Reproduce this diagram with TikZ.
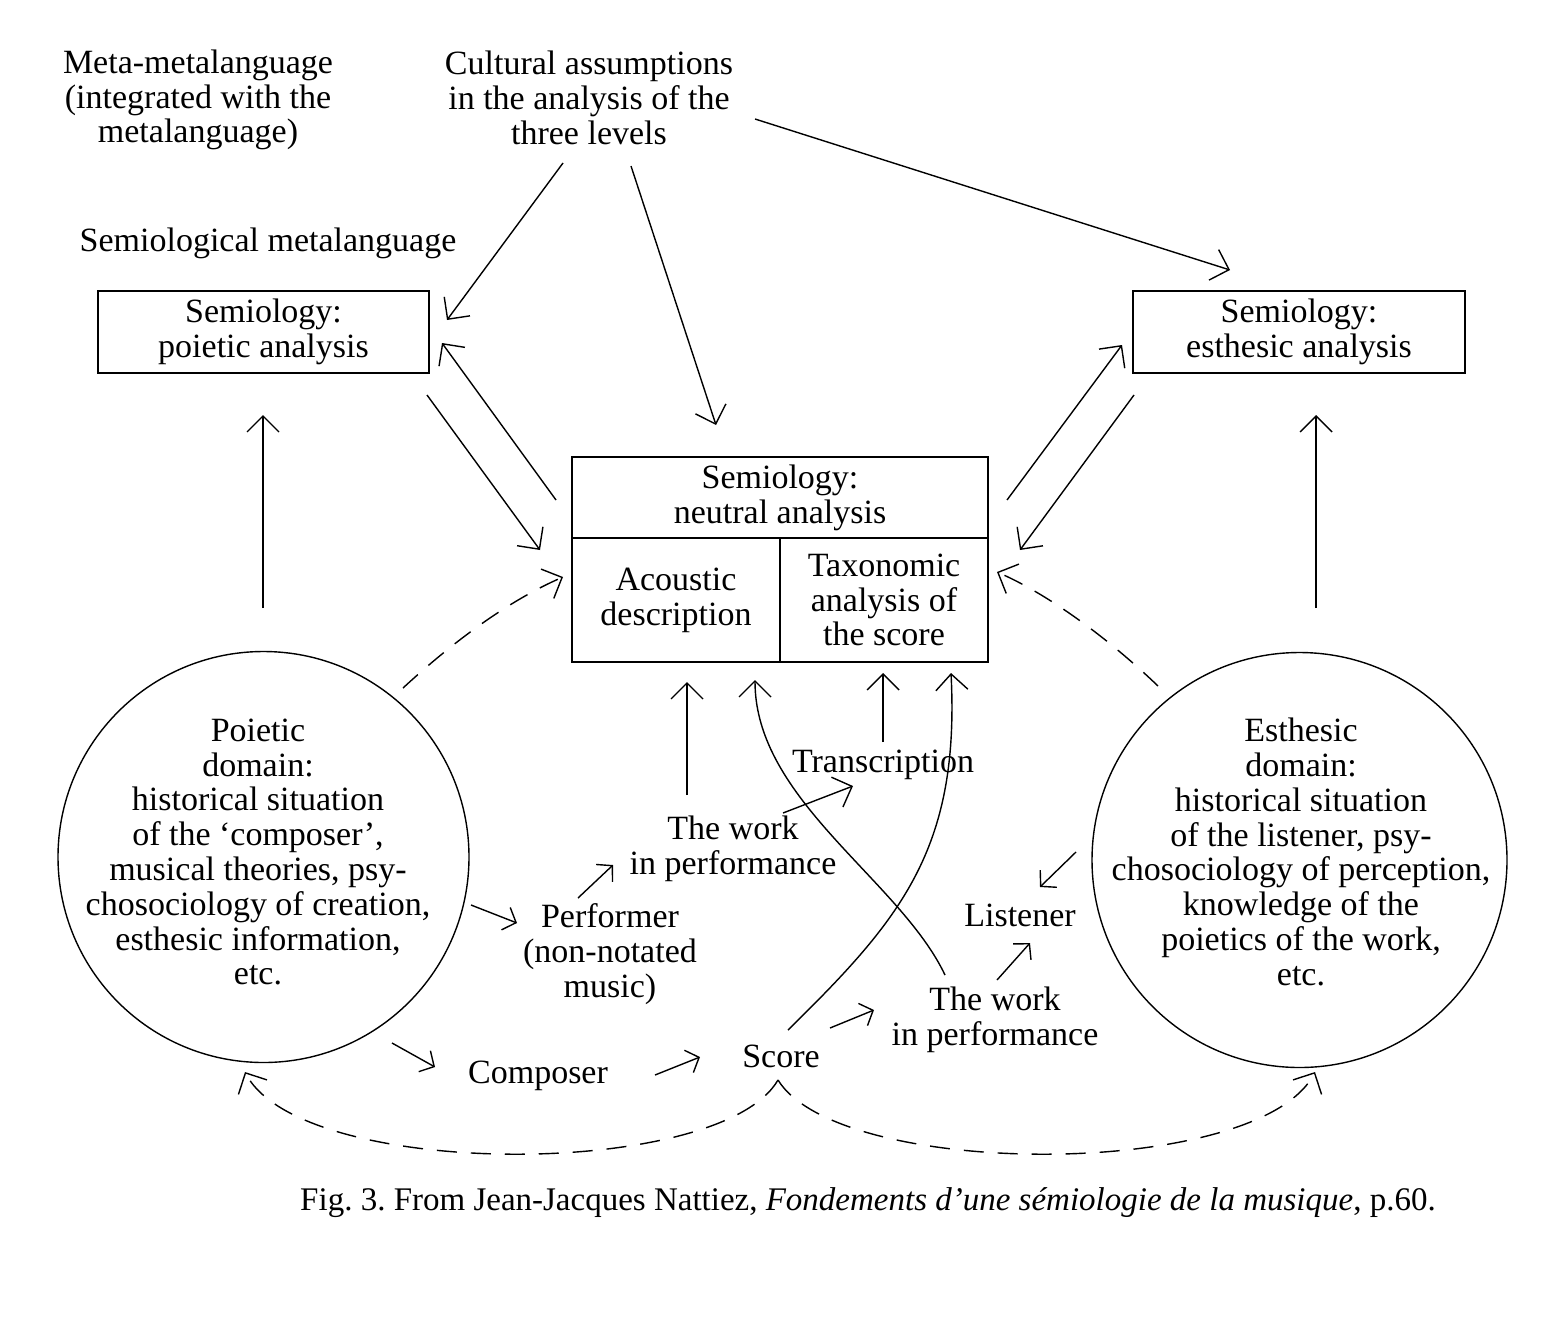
\documentclass[tikz,border=0pt]{standalone}
\usepackage{fontspec}
\setmainfont{Liberation Serif}
\usetikzlibrary{arrows.meta}
\frenchspacing
\begin{document}
\begin{tikzpicture}[x=0.5pt,y=-0.5pt,
  every node/.style={inner sep=0pt,align=center,font=\fontsize{17pt}{17.4pt}\selectfont},
  txt/.style={yshift=-1.5pt},
  line width=0.7pt,
  arr/.style={-{Straight Barb[length=8pt,width=16pt,line width=0.7pt]}},
  sarr/.style={-{Straight Barb[length=5.5pt,width=12pt,line width=0.7pt]}},
  darr/.style={dash pattern=on 10pt off 7pt,-{Straight Barb[length=8pt,width=16pt,line width=0.7pt]}},
  boxnode/.style={draw,rectangle,line width=0.7pt},
  domcircle/.style={draw,circle,line width=0.7pt}]
\useasboundingbox (0,0) rectangle (1542,1323);

% texts at top
\node[txt] (meta) at (198,97) {Meta-metalanguage\\(integrated with the\\metalanguage)};
\node[txt] (cult) at (589,95) {Cultural assumptions\\in the analysis of the\\three levels};
\node[txt] (semmeta) at (268,240) {Semiological metalanguage};

% boxes
\node[boxnode,minimum width=165.5pt,minimum height=41pt] (pbox) at (263.5,332) {Semiology:\\poietic analysis};
\node[boxnode,minimum width=166pt,minimum height=41pt] (ebox) at (1299,332) {Semiology:\\esthesic analysis};
\node[boxnode,minimum width=208pt,minimum height=40.5pt] (neutral) at (780,497.5) {Semiology:\\neutral analysis};
\node[boxnode,minimum width=104pt,minimum height=62pt] (acoustic) at (676,600) {Acoustic\\description};
\node[boxnode,minimum width=104pt,minimum height=62pt] (taxo) at (884,600) {Taxonomic\\analysis of\\the score};

% domains
\node[domcircle,minimum size=205.5pt] (pdom) at (263.5,857) {};
\node[txt] (pdomtext) at (258,849) {Poietic\\domain:\\historical situation\\of the ‘composer’,\\musical theories, psy-\\chosociology of creation,\\esthesic information,\\etc.};
\node[domcircle,minimum size=207.5pt] (edom) at (1299.5,860) {};
\node[txt] (edomtext) at (1301,849) {Esthesic\\domain:\\historical situation\\of the listener, psy-\\chosociology of perception,\\knowledge of the\\poietics of the work,\\etc.};

% middle texts
\node[txt] (transc) at (883,762) {Transcription};
\node[txt] (workup) at (733,846) {The work\\in performance};
\node[txt] (perf) at (610,951) {Performer\\(non-notated\\music)};
\node[txt] (listener) at (1020,912) {Listener};
\node[txt] (worklow) at (995,1017) {The work\\in performance};
\node[txt] (composer) at (538,1073) {Composer};
\node[txt] (score) at (781,1053) {Score};

% caption
\node[txt,font=\fontsize{16.5pt}{17pt}\selectfont] (caption) at (868,1200) {Fig. 3. From Jean-Jacques Nattiez, \textit{Fondements d’une sémiologie de la musique}, p.60.};

% coordinates for arrow ends
\coordinate (c1a) at (563,163); \coordinate (c1b) at (447,320);
\coordinate (c2a) at (631,166); \coordinate (c2b) at (716,425);
\coordinate (c3a) at (755,119); \coordinate (c3b) at (1230,270);
\coordinate (pn1a) at (427,395); \coordinate (pn1b) at (540,550);
\coordinate (pn2a) at (556,500); \coordinate (pn2b) at (442,343);
\coordinate (en1a) at (1007,500); \coordinate (en1b) at (1122,345);
\coordinate (en2a) at (1134,395); \coordinate (en2b) at (1020,550);
\coordinate (pva) at (263,608); \coordinate (pvb) at (263,415);
\coordinate (eva) at (1316,608); \coordinate (evb) at (1316,415);
\coordinate (wua) at (687,795); \coordinate (wub) at (687,682);
\coordinate (tra) at (883,742); \coordinate (trb) at (883,673);
\coordinate (wta) at (783,813); \coordinate (wtb) at (853,786);
\coordinate (cva) at (945,975); \coordinate (cvb) at (755,680);
\coordinate (csa) at (788,1030); \coordinate (csb) at (951,673);
\coordinate (s1a) at (471,905); \coordinate (s1b) at (517,923);
\coordinate (s2a) at (578,898); \coordinate (s2b) at (613,865);
\coordinate (s3a) at (392,1043); \coordinate (s3b) at (435,1067);
\coordinate (s4a) at (655,1075); \coordinate (s4b) at (700,1057);
\coordinate (s5a) at (830,1028); \coordinate (s5b) at (874,1010);
\coordinate (s6a) at (997,980); \coordinate (s6b) at (1030,943);
\coordinate (s7a) at (1076,852); \coordinate (s7b) at (1040,887);
\coordinate (d1a) at (403,688); \coordinate (d1b) at (563,577);
\coordinate (d2a) at (1158,686); \coordinate (d2b) at (997,572);
\coordinate (sc) at (778,1080);
\coordinate (d3b) at (245,1072); \coordinate (d4b) at (1315,1072);

% solid arrows
\draw[arr] (c1a) -- (c1b);
\draw[arr] (c2a) -- (c2b);
\draw[arr] (c3a) -- (c3b);
\draw[arr] (pn1a) -- (pn1b);
\draw[arr] (pn2a) -- (pn2b);
\draw[arr] (en1a) -- (en1b);
\draw[arr] (en2a) -- (en2b);
\draw[arr] (pva) -- (pvb);
\draw[arr] (eva) -- (evb);
\draw[arr] (wua) -- (wub);
\draw[arr] (tra) -- (trb);
\draw[arr] (wta) -- (wtb);
\draw[arr] (cva) .. controls (900,880) and (755,800) .. (cvb);
\draw[arr] (csa) .. controls (900,920) and (960,850) .. (csb);

% small arrows
\draw[sarr] (s1a) -- (s1b);
\draw[sarr] (s2a) -- (s2b);
\draw[sarr] (s3a) -- (s3b);
\draw[sarr] (s4a) -- (s4b);
\draw[sarr] (s5a) -- (s5b);
\draw[sarr] (s6a) -- (s6b);
\draw[sarr] (s7a) -- (s7b);

% dashed arrows
\draw[darr] (d1a) .. controls (455,640) and (510,600) .. (d1b);
\draw[darr] (d2a) .. controls (1110,640) and (1050,595) .. (d2b);
\draw[darr] (sc) .. controls (720,1180) and (300,1180) .. (d3b);
\draw[darr] (sc) .. controls (840,1180) and (1260,1180) .. (d4b);
\end{tikzpicture}
\end{document}
